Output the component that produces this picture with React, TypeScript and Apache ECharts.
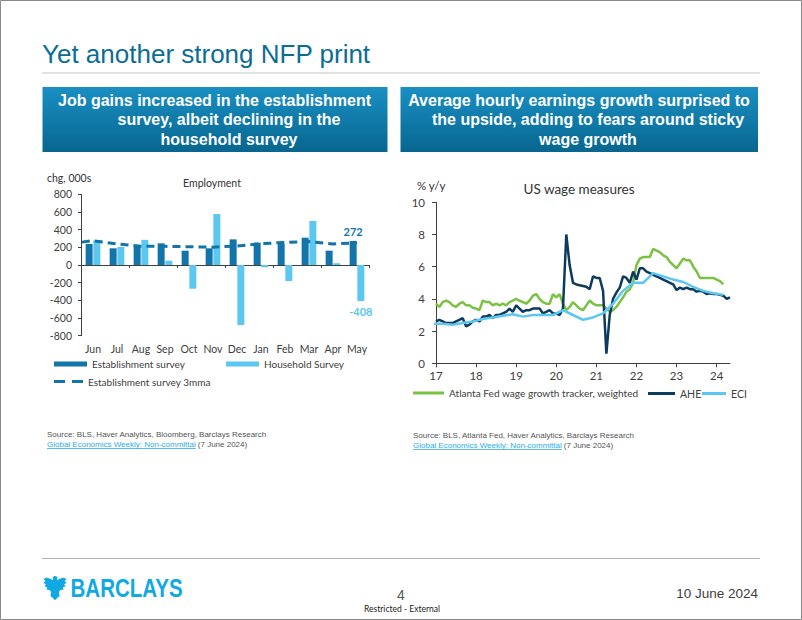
import React, { useEffect, useRef } from "react";
import * as echarts from "echarts";

// ---------------- Left chart: Employment (chg, 000s) ----------------
const months = ["Jun", "Jul", "Aug", "Sep", "Oct", "Nov", "Dec", "Jan", "Feb", "Mar", "Apr", "May"];
const establishment = [238, 189, 215, 245, 162, 189, 290, 253, 240, 309, 162, 272];
const household = [280, 204, 285, 49, -268, 577, -679, -26, -181, 498, 20, -408];
const estab3mmaPrior = 240; // May 2023 (before the first category, clipped)
const estab3mma = [275, 238, 212, 211, 207, 202, 215, 241, 256, 265, 238, 252];

// ---------------- Right chart: US wage measures (% y/y) ----------------
const yearTicks = [17, 18, 19, 20, 21, 22, 23, 24];
const monthlyStart = 17; // Jan 2017
const eciStart = 16 + 11 / 12; // Dec 2016, quarterly thereafter
const atlantaFed = [
  3.7, 3.5, 3.8, 3.9, 3.8, 3.6, 3.5, 3.7, 3.8, 3.6, 3.6, 3.45,
  3.4, 3.3, 3.9, 3.8, 3.8, 3.6, 3.7, 3.6, 3.7, 3.6, 3.8, 3.9,
  4.0, 3.9, 3.8, 3.7, 3.9, 4.2, 4.3, 4.0, 3.8, 3.7, 3.7, 4.3,
  4.1, 4.3, 3.7, 3.3, 3.5, 3.8, 3.6, 3.4, 3.3, 3.6, 3.9, 3.7,
  3.6, 3.6, 3.6, 3.4, 3.2, 3.3, 3.5, 3.8, 4.1, 4.45, 4.6, 5.0,
  6.1, 6.5, 6.6, 6.6, 6.6, 7.1, 7.0, 6.9, 6.7, 6.6, 6.3, 6.1,
  5.9, 6.2, 6.5, 6.4, 6.4, 6.0, 5.7, 5.3, 5.3, 5.3, 5.3, 5.3,
  5.2, 5.1, 4.9,
];
const ahe = [
  2.6, 2.7, 2.6, 2.5, 2.5, 2.5, 2.6, 2.7, 2.8, 2.3, 2.4, 2.6,
  2.7, 2.6, 2.9, 2.9, 3.0, 2.8, 3.0, 3.0, 3.1, 3.2, 3.4, 3.2,
  3.6, 3.4, 3.2, 3.3, 3.3, 3.4, 3.4, 3.4, 3.1, 3.2, 3.3, 3.1,
  3.1, 3.0, 3.4, 8.0, 6.1, 5.0, 4.9, 4.85, 4.8, 4.75, 4.6, 5.4,
  5.3, 5.3, 4.5, 0.6, 3.0, 4.0, 4.4, 4.7, 5.4, 5.3, 5.0, 5.7,
  5.2, 5.9, 5.9, 5.7, 5.6, 5.5, 5.4, 5.3, 5.2, 5.1, 5.0, 4.9,
  4.55, 4.7, 4.6, 4.7, 4.6, 4.6, 4.45, 4.5, 4.45, 4.3, 4.35, 4.3,
  4.3, 4.25, 4.2, 4.0, 4.1,
];
const eci = [
  2.45,
  2.45, 2.4, 2.5, 2.6,
  2.75, 2.85, 2.95, 3.05,
  2.9, 3.0, 3.0, 3.0,
  3.3, 3.0, 2.7, 2.85,
  3.1, 3.7, 4.5, 5.0,
  5.0, 5.6, 5.4, 5.2,
  5.05, 4.75, 4.5, 4.35,
  4.25,
];

const EAGLE =
  "M12 0 C13.6 0 14.6 1.2 14.4 2.8 L13.8 4.6 L16.5 3.2 L21 1.5 L24 3.5 L22 5.5 L24 7.5 L21.5 9 L23 11 L20 12.3 L21 14.5 L17.5 15 L16 17.5 L16.8 21.5 L14.5 23.5 L12 26 L9.5 23.5 L7.2 21.5 L8 17.5 L6.5 15 L3 14.5 L4 12.3 L1 11 L2.5 9 L0 7.5 L2 5.5 L0 3.5 L3 1.5 L7.5 3.2 L10.2 4.6 L9.6 2.8 C9.4 1.2 10.4 0 12 0 Z";
echarts.graphic.registerShape("barclaysEagle", echarts.graphic.extendPath(EAGLE, {}));

const DARK = "#1374aa";
const LIGHT = "#5cc8f1";
const GREEN = "#7bc244";
const NAVY = "#0d3b5d";
const AXIS = "#404040";
const ARIAL = "'Liberation Sans', Arial, sans-serif";
const DASH_ICON = "path://M0 0h11v3H0z M18 0h11v3h-11z";

function measure(text: string, font: string): number {
  const ctx = document.createElement("canvas").getContext("2d");
  if (!ctx) return text.length * 4;
  ctx.font = font;
  return ctx.measureText(text).width;
}

function sourceBlock(x: number, y: number, source: string) {
  const font = `8px ${ARIAL}`;
  const link = "Global Economics Weekly: Non-committal";
  const w = measure(link, font);
  return [
    { type: "text", x, y, style: { text: source, font, fill: "#555555", textVerticalAlign: "middle" } },
    { type: "text", x, y: y + 9.5, style: { text: link, font, fill: "#2aaee4", textVerticalAlign: "middle" } },
    { type: "line", shape: { x1: x, y1: y + 14, x2: x + w, y2: y + 14 }, style: { stroke: "#2aaee4", lineWidth: 0.8 } },
    { type: "text", x: x + w + 2, y: y + 9.5, style: { text: "(7 June 2024)", font, fill: "#555555", textVerticalAlign: "middle" } },
  ];
}

function headerBox(x: number, w: number, lines: { t: string; cx: number }[]) {
  const grad = new echarts.graphic.LinearGradient(0, 0, 0, 1, [
    { offset: 0, color: "#1a8fc3" },
    { offset: 1, color: "#07668f" },
  ]);
  const items: any[] = [{ type: "rect", shape: { x, y: 87, width: w, height: 65 }, style: { fill: grad } }];
  lines.forEach((l, i) => {
    items.push({
      type: "text",
      x: l.cx,
      y: 100 + i * 19.5,
      style: { text: l.t, font: `bold 16px ${ARIAL}`, fill: "#ffffff", textAlign: "center", textVerticalAlign: "middle" },
    });
  });
  return items;
}

function singleLegend(name: string, left: number, top: number, icon: string, w: number, h: number, fontSize: number) {
  return {
    data: [{ name, icon }],
    left,
    top,
    itemWidth: w,
    itemHeight: h,
    selectedMode: false,
    padding: 0,
    textStyle: { fontSize, color: AXIS },
  };
}

export default function App() {
  const ref = useRef<HTMLDivElement>(null);

  useEffect(() => {
    if (!ref.current) return;
    const chart = echarts.init(ref.current, undefined, { renderer: "svg" });
    const last = establishment.length - 1;

    const option: any = {
      animation: false,
      textStyle: { fontFamily: "Lato" },
      grid: [
        { left: 81, top: 194.3, width: 288, height: 141.4 },
        { left: 436, top: 202.3, width: 294, height: 161 },
      ],
      xAxis: [
        {
          gridIndex: 0,
          type: "category",
          data: months,
          axisLine: { onZero: true, lineStyle: { color: AXIS, width: 1 } },
          axisTick: { show: true, length: 3, lineStyle: { color: AXIS } },
          axisLabel: { show: false },
        },
        {
          gridIndex: 0,
          type: "category",
          data: months,
          position: "bottom",
          axisLine: { show: false, onZero: false },
          axisTick: { show: false },
          axisLabel: { color: AXIS, fontSize: 10.5, margin: 8, interval: 0 },
        },
        { gridIndex: 0, type: "value", min: -0.5, max: 11.5, show: false },
        {
          gridIndex: 1,
          type: "value",
          min: 17,
          max: 24 + 4 / 12,
          interval: 1,
          axisLine: { onZero: false, lineStyle: { color: AXIS, width: 1 } },
          axisTick: { show: true, length: 4, customValues: yearTicks, lineStyle: { color: AXIS } },
          axisLabel: {
            customValues: yearTicks,
            color: AXIS,
            fontSize: 11.5,
            margin: 6,
            formatter: (v: number) => (Number.isInteger(v) ? String(v) : ""),
          },
          splitLine: { show: false },
        },
      ],
      yAxis: [
        {
          gridIndex: 0,
          type: "value",
          min: -800,
          max: 800,
          interval: 200,
          axisLine: { show: true, onZero: false, lineStyle: { color: AXIS } },
          axisTick: { show: true, length: 3, lineStyle: { color: AXIS } },
          axisLabel: { color: AXIS, fontSize: 10.5, margin: 9 },
          splitLine: { show: false },
        },
        {
          gridIndex: 1,
          type: "value",
          min: 0,
          max: 10,
          interval: 2,
          axisLine: { show: true, onZero: false, lineStyle: { color: AXIS } },
          axisTick: { show: true, length: 4, lineStyle: { color: AXIS } },
          axisLabel: { color: AXIS, fontSize: 11.5, margin: 11 },
          splitLine: { show: false },
        },
      ],
      legend: [
        singleLegend("Establishment survey", 54, 359, "rect", 33, 5, 10),
        singleLegend("Household Survey", 226, 359, "rect", 33, 5, 10),
        singleLegend("Establishment survey 3mma", 54, 376.5, DASH_ICON, 29, 3, 10),
        singleLegend("Atlanta Fed wage growth tracker, weighted", 413, 388, "rect", 31, 3, 10.1),
        singleLegend("AHE", 648, 388, "rect", 27, 3, 10.5),
        singleLegend("ECI", 702, 388, "rect", 24, 3, 10.5),
      ],
      series: [
        {
          name: "Establishment survey",
          type: "bar",
          xAxisIndex: 0,
          yAxisIndex: 0,
          barWidth: 7,
          barGap: "10%",
          itemStyle: { color: DARK },
          data: establishment.map((v, i) =>
            i === last
              ? { value: v, label: { show: true, position: "top", distance: 4, color: DARK, fontWeight: "bold", fontSize: 11 } }
              : v
          ),
        },
        {
          name: "Household Survey",
          type: "bar",
          xAxisIndex: 0,
          yAxisIndex: 0,
          barWidth: 7,
          barGap: "10%",
          itemStyle: { color: LIGHT },
          data: household.map((v, i) =>
            i === last
              ? { value: v, label: { show: true, position: "bottom", distance: 5, color: LIGHT, fontWeight: "bold", fontSize: 11 } }
              : v
          ),
        },
        {
          name: "Establishment survey 3mma",
          type: "line",
          xAxisIndex: 2,
          yAxisIndex: 0,
          z: 5,
          symbol: "none",
          clip: true,
          itemStyle: { color: DARK },
          lineStyle: { color: DARK, width: 3, type: [8, 5] },
          data: [[-1, estab3mmaPrior], ...estab3mma.map((v, i) => [i, v])],
        },
        {
          name: "Atlanta Fed wage growth tracker, weighted",
          type: "line",
          xAxisIndex: 3,
          yAxisIndex: 1,
          symbol: "none",
          itemStyle: { color: GREEN },
          lineStyle: { color: GREEN, width: 2.5 },
          data: atlantaFed.map((v, i) => [monthlyStart + i / 12, v]),
        },
        {
          name: "AHE",
          type: "line",
          xAxisIndex: 3,
          yAxisIndex: 1,
          symbol: "none",
          itemStyle: { color: NAVY },
          lineStyle: { color: NAVY, width: 2.5 },
          data: ahe.map((v, i) => [monthlyStart + i / 12, v]),
        },
        {
          name: "ECI",
          type: "line",
          xAxisIndex: 3,
          yAxisIndex: 1,
          symbol: "none",
          clip: true,
          itemStyle: { color: LIGHT },
          lineStyle: { color: LIGHT, width: 2.5 },
          data: eci.map((v, i) => [eciStart + i * 0.25, v]),
        },
      ],
      graphic: [
        { type: "rect", shape: { x: 0.5, y: 0.5, width: 801, height: 619 }, style: { fill: "none", stroke: "#8a8a8a", lineWidth: 1 } },
        {
          type: "text",
          x: 42,
          y: 53.5,
          style: { text: "Yet another strong NFP print", font: `26px ${ARIAL}`, fill: "#0b6d95", textVerticalAlign: "middle" },
        },
        { type: "line", shape: { x1: 42, y1: 73, x2: 760, y2: 73 }, style: { stroke: "#c6c6c6", lineWidth: 1.2 } },
        ...headerBox(42.5, 345, [
          { t: "Job gains increased in the establishment", cx: 214.5 },
          { t: "survey, albeit declining in the", cx: 229 },
          { t: "household survey", cx: 229 },
        ]),
        ...headerBox(400.5, 357.5, [
          { t: "Average hourly earnings growth surprised to", cx: 579 },
          { t: "the upside, adding to fears around sticky", cx: 588 },
          { t: "wage growth", cx: 588 },
        ]),
        { type: "text", x: 47, y: 178, style: { text: "chg, 000s", font: "10.5px Lato", fill: "#333333", textVerticalAlign: "middle" } },
        {
          type: "text",
          x: 212,
          y: 182.5,
          style: { text: "Employment", font: "10.5px Lato", fill: "#333333", textAlign: "center", textVerticalAlign: "middle" },
        },
        { type: "text", x: 417, y: 185, style: { text: "% y/y", font: "11.5px Lato", fill: "#333333", textVerticalAlign: "middle" } },
        {
          type: "text",
          x: 579,
          y: 188.5,
          style: { text: "US wage measures", font: "13.5px Lato", fill: "#333333", textAlign: "center", textVerticalAlign: "middle" },
        },
        ...sourceBlock(47, 434.5, "Source: BLS, Haver Analytics, Bloomberg, Barclays Research"),
        ...sourceBlock(413, 435.5, "Source: BLS, Atlanta Fed, Haver Analytics, Barclays Research"),
        { type: "line", shape: { x1: 42, y1: 558.5, x2: 760, y2: 558.5 }, style: { stroke: "#b4b4b4", lineWidth: 1.2 } },
        { type: "barclaysEagle", x: 43.5, y: 576, scaleX: 0.96, scaleY: 0.93, style: { fill: "#10a9e3" } },
        {
          type: "text",
          x: 70.5,
          y: 588,
          scaleX: 0.79,
          style: { text: "BARCLAYS", font: `bold 26px ${ARIAL}`, fill: "#10a9e3", textVerticalAlign: "middle" },
        },
        {
          type: "text",
          x: 401,
          y: 595,
          style: { text: "4", font: `14px ${ARIAL}`, fill: "#555555", textAlign: "center", textVerticalAlign: "middle" },
        },
        {
          type: "text",
          x: 402,
          y: 608.5,
          style: { text: "Restricted - External", font: "8.5px Lato", fill: "#222222", textAlign: "center", textVerticalAlign: "middle" },
        },
        {
          type: "text",
          x: 758,
          y: 593.5,
          style: { text: "10 June 2024", font: `13.5px ${ARIAL}`, fill: "#404040", textAlign: "right", textVerticalAlign: "middle" },
        },
      ],
    };

    chart.setOption(option);
    return () => chart.dispose();
  }, []);

  return (
    <div
      ref={ref}
      style={{ position: "absolute", left: 0, top: 0, width: 802, height: 620, background: "#ffffff" }}
    />
  );
}
